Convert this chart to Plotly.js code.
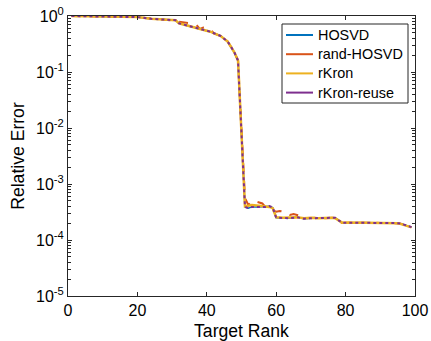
<!DOCTYPE html>
<html>
<head>
<meta charset="utf-8">
<script src="https://cdn.plot.ly/plotly-3.0.1.min.js"></script>
<style>html,body{margin:0;padding:0;background:#fff;}#chart{width:431px;height:341px;}</style>
</head>
<body>
<div id="chart"></div>
<script>
// Target ranks
var ranksHOSVD = [1,5,10,15,20,24,28,31,32,35,38,41,44,46,47,48,49,50,51,52,53,55,57,58,59,60,62,64,66,68,70,72,74,76,77,78,79,81,84,87,90,93,95,96,98,99];
var errHOSVD = [1.0,0.995,0.985,0.97,0.955,0.89,0.86,0.84,0.74,0.66,0.59,0.525,0.44,0.35,0.28,0.22,0.16,8e-3,3.9e-4,3.7e-4,3.9e-4,3.9e-4,3.9e-4,4.0e-4,3.8e-4,2.5e-4,2.45e-4,2.45e-4,2.57e-4,2.4e-4,2.45e-4,2.45e-4,2.45e-4,2.5e-4,2.5e-4,2.24e-4,2.04e-4,2.04e-4,2.04e-4,2.04e-4,2.04e-4,2.0e-4,2.0e-4,1.95e-4,1.78e-4,1.7e-4];

var ranksRand = [1,5,10,15,20,24,28,30,31,32,33,34,35,36,37,38,39,40,41,42,44,46,47,48,49,50,51,52,53,54,55,56,57,58,59,60,61,62,63,64,65,66,67,68,70,72,74,76,77,78,79,81,84,87,90,93,95,96,98,99];
var errRand = [1.0,0.995,0.985,0.97,0.955,0.89,0.86,0.85,0.83,0.79,0.78,0.76,0.74,0.72,0.69,0.59,0.62,0.60,0.59,0.49,0.44,0.35,0.28,0.22,0.16,8e-3,5.6e-4,4.2e-4,5.0e-4,4.9e-4,4.7e-4,4.5e-4,3.8e-4,3.6e-4,3.4e-4,3.2e-4,3.3e-4,3.25e-4,3.15e-4,2.8e-4,2.9e-4,2.8e-4,2.7e-4,2.45e-4,2.5e-4,2.5e-4,2.45e-4,2.5e-4,2.5e-4,2.2e-4,2.02e-4,2.04e-4,2.05e-4,2.04e-4,2.02e-4,2.0e-4,2.0e-4,1.95e-4,1.76e-4,1.7e-4];

var ranksKron = [1,5,10,15,20,24,28,31,32,35,38,41,44,46,47,48,49,50,51,52,53,55,57,58,59,60,62,64,66,68,70,72,74,76,77,78,79,81,84,87,90,93,95,96,98,99];
var errKron = [1.0,0.995,0.985,0.97,0.955,0.89,0.86,0.84,0.74,0.66,0.59,0.525,0.44,0.35,0.28,0.22,0.16,8e-3,4.0e-4,4.1e-4,4.2e-4,4.1e-4,4.0e-4,3.9e-4,3.7e-4,2.55e-4,2.5e-4,2.5e-4,2.55e-4,2.45e-4,2.5e-4,2.45e-4,2.5e-4,2.5e-4,2.45e-4,2.2e-4,2.04e-4,2.06e-4,2.04e-4,2.05e-4,2.04e-4,2.0e-4,2.0e-4,1.92e-4,1.75e-4,1.68e-4];

var ranksReuse = [1,5,10,15,20,24,28,31,32,35,38,41,44,46,47,48,49,50,51,52,53,55,57,58,59,60,62,64,66,68,70,72,74,76,77,78,79,81,84,87,90,93,95,96,98,99];
var errReuse = [1.0,0.995,0.985,0.97,0.955,0.89,0.86,0.84,0.74,0.66,0.59,0.525,0.44,0.35,0.28,0.22,0.16,8e-3,3.9e-4,3.7e-4,3.9e-4,3.9e-4,3.9e-4,4.05e-4,3.8e-4,2.5e-4,2.45e-4,2.45e-4,2.55e-4,2.4e-4,2.45e-4,2.45e-4,2.45e-4,2.5e-4,2.5e-4,2.24e-4,2.04e-4,2.04e-4,2.04e-4,2.04e-4,2.04e-4,2.0e-4,2.0e-4,1.95e-4,1.78e-4,1.7e-4];

var seriesNames = ['HOSVD','rand-HOSVD','rKron','rKron-reuse'];
var seriesColors = ['#0072BD','#D95319','#EDB120','#7E2F8E'];
var xTicks = [0,20,40,60,80,100];
var yTicks = [1e-5,1e-4,1e-3,1e-2,1e-1,1];
var yTickText = ['10<sup>-5</sup>','10<sup>-4</sup>','10<sup>-3</sup>','10<sup>-2</sup>','10<sup>-1</sup>','10<sup>0</sup>'];

var xs = [ranksHOSVD, ranksRand, ranksKron, ranksReuse];
var ys = [errHOSVD, errRand, errKron, errReuse];
var dashes = ['solid','dash','solid','dot'];
var widths = [1.5, 2, 2.5, 2];

var traces = [];
for (var i = 0; i < 4; i++) {
  traces.push({x: xs[i], y: ys[i], type: 'scatter', mode: 'lines', showlegend: false,
    line: {color: seriesColors[i], width: widths[i], dash: dashes[i]}, hoverinfo: 'skip'});
}

// Manual legend (MATLAB-style, solid line samples)
var plotL = 68, plotR = 415, plotT = 16, plotB = 296;
function px2x(p) { return (p - plotL) / (plotR - plotL); }
function py2y(p) { return (plotB - p) / (plotB - plotT); }
var shapes = [{type: 'rect', xref: 'paper', yref: 'paper', x0: px2x(282), x1: px2x(408),
  y0: py2y(103), y1: py2y(24), line: {color: '#262626', width: 1}, fillcolor: '#fff', layer: 'above'}];
var annotations = [];
for (var k = 0; k < 4; k++) {
  var rowY = py2y(35 + k * 19.2);
  shapes.push({type: 'line', xref: 'paper', yref: 'paper', x0: px2x(286), x1: px2x(313),
    y0: rowY, y1: rowY, line: {color: seriesColors[k], width: 2}, layer: 'above'});
  annotations.push({xref: 'paper', yref: 'paper', x: px2x(316), y: rowY, xanchor: 'left',
    yanchor: 'middle', text: seriesNames[k], showarrow: false,
    font: {family: '"Liberation Sans", Arial, Helvetica, sans-serif', size: 14.4, color: '#000'}});
}

var fontFam = '"Liberation Sans", Arial, Helvetica, sans-serif';
var layout = {
  width: 431, height: 341,
  margin: {l: 68, r: 16, t: 16, b: 45},
  paper_bgcolor: '#fff', plot_bgcolor: '#fff',
  font: {family: fontFam, size: 16, color: '#262626'},
  showlegend: false,
  shapes: shapes,
  annotations: annotations,
  xaxis: {range: [0, 100], tickmode: 'array', tickvals: xTicks, ticktext: xTicks.map(String),
    ticks: 'inside', ticklen: 4, tickcolor: '#262626', showline: true, linecolor: '#262626',
    linewidth: 1, mirror: 'allticks', showgrid: false, zeroline: false,
    tickfont: {size: 16, color: '#000'},
    title: {text: 'Target Rank', font: {size: 17.6, color: '#000'}, standoff: 9}},
  yaxis: {type: 'log', range: [-5, 0], tickmode: 'array', tickvals: yTicks, ticktext: yTickText,
    ticks: 'inside', ticklen: 4, tickcolor: '#262626', showline: true, linecolor: '#262626',
    linewidth: 1, mirror: 'allticks', showgrid: false, zeroline: false,
    tickfont: {size: 16, color: '#000'},
    minor: {dtick: 'D1', ticks: 'inside', ticklen: 3, tickcolor: '#262626', showgrid: false},
    title: {text: 'Relative Error', font: {size: 17.6, color: '#000'}, standoff: 6}}
};

Plotly.newPlot('chart', traces, layout, {displayModeBar: false, staticPlot: true});
</script>
</body>
</html>
